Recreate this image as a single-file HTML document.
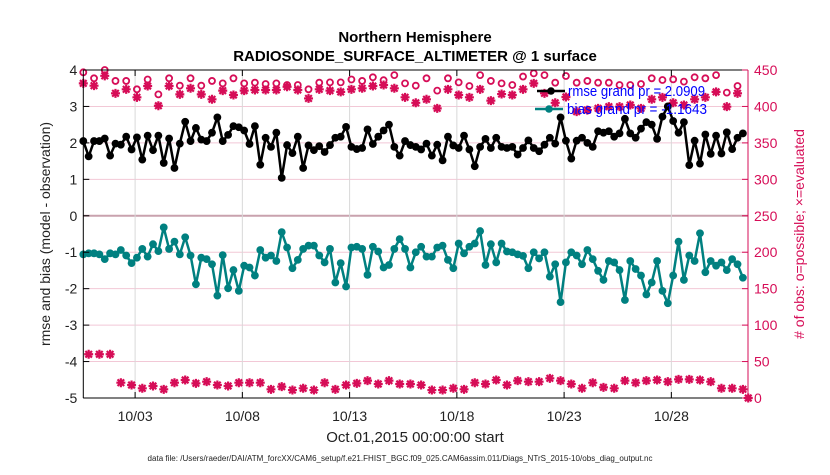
<!DOCTYPE html>
<html><head><meta charset="utf-8"><style>
body{margin:0;background:#fff;}
svg text{font-family:"Liberation Sans",Arial,sans-serif;}
</style></head><body>
<svg id="chart" width="830" height="470" viewBox="0 0 830 470">
<rect width="830" height="470" fill="#fff"/>
<g id="grid"></g>
<g id="series"></g>
<g id="axes"></g>
</svg>
<script>
const rmse=[2.05,1.63,2.05,2.05,2.12,1.65,1.98,1.95,2.17,1.82,2.15,1.54,2.2,1.8,2.2,1.45,2.12,1.31,1.98,2.58,2.05,2.41,2.09,2.05,2.28,2.7,2.05,2.22,2.46,2.43,2.34,1.97,2.46,1.4,2.14,1.89,2.28,1.04,1.94,1.72,2.17,1.31,
1.93,1.8,1.91,1.75,1.94,2.14,2.17,2.44,1.89,1.83,1.86,2.37,1.97,2.17,2.34,2.5,1.89,1.65,2.05,1.94,1.89,1.82,1.98,1.65,1.95,1.52,2.17,1.93,1.86,2.2,1.82,1.36,1.89,2.11,1.86,2.14,1.89,1.86,1.89,1.68,1.86,
2.07,1.86,1.77,1.95,2.14,1.98,2.7,2.06,1.57,2.06,2.14,2.0,1.89,2.32,2.28,2.32,2.17,2.26,2.66,2.26,2.14,2.39,2.57,2.5,2.11,2.72,3.0,2.6,2.28,2.57,1.39,2.06,1.43,2.23,1.7,2.2,1.71,2.29,1.83,2.14,2.26];
const bias=[-1.06,-1.03,-1.03,-1.06,-1.19,-1.03,-1.06,-0.94,-1.09,-1.3,-1.15,-0.91,-1.12,-0.78,-0.97,-0.32,-0.91,-0.71,-1.06,-0.59,-1.09,-1.88,-1.15,-1.19,-1.33,-2.19,-1.08,-1.99,-1.49,-2.06,-1.37,-1.42,-1.64,-0.94,-1.15,-1.09,-1.24,-0.45,-0.87,-1.44,-1.21,-0.91,
-0.82,-0.82,-1.09,-1.28,-0.91,-1.83,-1.3,-1.94,-0.87,-0.85,-0.91,-1.62,-0.85,-0.98,-1.42,-1.35,-0.91,-0.64,-0.91,-1.42,-1.0,-0.85,-1.12,-1.12,-0.87,-0.82,-1.21,-1.44,-0.76,-1.03,-0.85,-0.76,-0.42,-1.35,-0.78,-1.28,-0.76,-0.98,-1.0,-1.06,-1.1,
-1.44,-1.0,-1.17,-1.0,-1.67,-1.33,-2.37,-1.28,-1.0,-1.09,-1.33,-0.94,-1.19,-1.51,-1.76,-1.24,-1.28,-1.49,-2.31,-1.24,-1.46,-1.64,-2.16,-1.83,-1.24,-2.06,-2.4,-1.64,-0.71,-1.76,-1.09,-1.24,-0.48,-1.55,-1.24,-1.37,-1.28,-1.49,-1.19,-1.33,-1.7];
const possibleTop=[446.8,438.6,450,435,435,423.5,437,416.6,438.6,428.5,438.6,428.5,435,431.7,438.6,431.7,432.6,430.8,431.7,429.4,429.4,
423.5,432.6,433,433,437,435,440,436,443,431.7,428.5,438.6,421.7,438.6,433,428,443,435,431.7,429.4,441,
445.4,443,432.6,441.8,432.6,435,432.6,432.6,429.4,429.4,430.8,438.6,436.3,437.2,434,440,438.6,443,419,428];
const usedTop=[431.7,428.5,442,418,423.5,412.5,428,401,428,416.6,424.9,416.6,409.8,421.7,415.7,421.7,422.6,422.6,422.6,427,422.6,
411,423.5,421.7,420,423.5,424.9,428,429.4,424.9,412.5,405,409.8,397.4,423.5,415.7,412.5,423.5,408,417,415.7,423.5,
431.7,418,405,413,392.9,395,397.4,399.7,399.7,402,397.4,409.8,412.5,405,402,409.8,412.5,420,399.7,418];
const obsLow=[60,60,60,21,17.8,13.3,16.5,11.9,21,24.7,20.1,22.4,17.8,16.5,21,21,21,11.9,15.6,10.9,13.3,10.9,21,11.9,17.8,20.1,23.8,19.2,23.8,19.2,19.2,
17.8,10.9,10.9,13.3,11.9,21,19.2,24.7,17.8,23.8,22.4,22.4,27,23.8,19.2,13.3,21,14.6,13.3,23.8,21,23.8,24.7,22.4,25.6,25.6,24.7,22.4,13.3,13.3,11.9,0];
const tickDays=[2,7,12,17,22,27];
const tickLabels=['10/03','10/08','10/13','10/18','10/23','10/28'];
const leftTicks=[4,3,2,1,0,-1,-2,-3,-4,-5];
const rightTicks=[450,400,350,300,250,200,150,100,50,0];

const X0=83.3,X1=748,Y0=70,Y1=398,D0=-0.415,DPX=21.45;
const xDay=d=>X0+(d-D0)*DPX;
const xIdx=i=>xDay(D0+i*0.25);
const yL=v=>Y0+(4-v)*(Y1-Y0)/9;
const yR=v=>Y1-v*(Y1-Y0)/450;
const NS='http://www.w3.org/2000/svg';
const PINK='#d60d57',TEAL='#008080';
function mk(tag,at,parent){const e=document.createElementNS(NS,tag);for(const k in at)e.setAttribute(k,at[k]);parent.appendChild(e);return e;}
const grid=document.getElementById('grid'),ser=document.getElementById('series'),ax=document.getElementById('axes');

leftTicks.forEach(v=>{const y=yL(v);
 const g=mk('line',{x1:X0,x2:X1,y1:y,y2:y,stroke:v===0?'#c9a2ae':'#f2c8d6','stroke-width':v===0?2:1},grid);
 
 
});
tickDays.forEach(d=>{const x=xDay(d);
 const g=mk('line',{x1:x,x2:x,y1:Y0,y2:Y1,stroke:'#d8d8d8','stroke-width':1},grid);
 
 
});

function drawLine(vals,col,name){
 const pts=vals.map((v,i)=>xIdx(i).toFixed(1)+','+yL(v).toFixed(1)).join(' ');
 const p=mk('polyline',{points:pts,fill:'none',stroke:col,'stroke-width':2.5,'stroke-linejoin':'round'},ser);
 
 
 vals.forEach((v,i)=>{const c=mk('circle',{cx:xIdx(i),cy:yL(v),r:3.9,fill:col},ser);
  
  });
}
function star(x,y,name){
 const g=mk('g',{},ser);
 
 
 mk('path',{d:`M${x-4.5},${y}H${x+4.5}M${x},${y-4.5}V${y+4.5}M${x-3.3},${y-3.3}L${x+3.3},${y+3.3}M${x-3.3},${y+3.3}L${x+3.3},${y-3.3}`,stroke:PINK,'stroke-width':2.2},g);
 mk('circle',{cx:x,cy:y,r:2.8,fill:PINK},g);
}
possibleTop.forEach((v,j)=>{const c=mk('circle',{cx:xIdx(2*j),cy:yR(v),r:3,fill:'none',stroke:PINK,'stroke-width':1.8},ser);
 
 });
usedTop.forEach((v,j)=>star(xIdx(2*j),yR(v),'evaluated-obs-marker'));
obsLow.forEach((v,j)=>{const i=j<62?2*j+1:124;star(xIdx(i),yR(v),'low-obs-marker');});
drawLine(rmse,'#000','rmse');
drawLine(bias,TEAL,'bias');

[[X0,Y0,X1,Y0,'#000','top-axis'],[X0,Y1,X1,Y1,'#000','x-axis'],[X0,Y0,X0,Y1,'#000','left-y-axis'],[X1,Y0,X1,Y1,PINK,'right-y-axis']].forEach(a=>{
 const l=mk('line',{x1:a[0],y1:a[1],x2:a[2],y2:a[3],stroke:a[4],'stroke-width':1},ax);
 
 });
leftTicks.forEach(v=>{const y=yL(v);
 mk('line',{x1:X0,x2:X0+6,y1:y,y2:y,stroke:'#000'},ax);
 const t=mk('text',{x:X0-6,y:y+5,'text-anchor':'end','font-size':14,fill:'#222'},ax);t.textContent=v;
 
 });
rightTicks.forEach(v=>{const y=yR(v);
 mk('line',{x1:X1-6,x2:X1,y1:y,y2:y,stroke:PINK},ax);
 const t=mk('text',{x:X1+6,y:y+5,'font-size':14,fill:PINK},ax);t.textContent=v;
 
 });
tickDays.forEach((d,k)=>{const x=xDay(d);
 mk('line',{x1:x,x2:x,y1:Y1,y2:Y1-6,stroke:'#000'},ax);
 mk('line',{x1:x,x2:x,y1:Y0,y2:Y0+6,stroke:'#000'},ax);
 const t=mk('text',{x:x,y:421,'text-anchor':'middle','font-size':14,fill:'#222'},ax);t.textContent=tickLabels[k];
 
 });
</script>
<svg width="830" height="470" style="position:absolute;left:0;top:0">
<text x="415" y="42" text-anchor="middle" font-size="15" font-weight="bold">Northern Hemisphere</text>
<text x="415" y="61" text-anchor="middle" font-size="15" font-weight="bold">RADIOSONDE_SURFACE_ALTIMETER @ 1 surface</text>
<text x="415" y="442" text-anchor="middle" font-size="15" fill="#222">Oct.01,2015 00:00:00 start</text>
<text x="400" y="461" text-anchor="middle" font-size="8" fill="#222" textLength="505">data file: /Users/raeder/DAI/ATM_forcXX/CAM6_setup/f.e21.FHIST_BGC.f09_025.CAM6assim.011/Diags_NTrS_2015-10/obs_diag_output.nc</text>
<text transform="translate(50,234) rotate(-90)" text-anchor="middle" font-size="14" fill="#222">rmse and bias (model - observation)</text>
<text transform="translate(804,234) rotate(-90)" text-anchor="middle" font-size="14" fill="#d60d57"># of obs: o=possible; ×=evaluated</text>
<g>
<line x1="537" y1="91" x2="565" y2="91" stroke="#000" stroke-width="2.5"/><circle cx="551" cy="91" r="3.8" fill="#000"/>
<text x="568" y="96" font-size="15" fill="#0000ff" textLength="137" lengthAdjust="spacingAndGlyphs">rmse grand pr = 2.0909</text></g>
<g>
<line x1="535" y1="109" x2="563" y2="109" stroke="#008080" stroke-width="2.5"/><circle cx="549" cy="109" r="3.8" fill="#008080"/>
<text x="567" y="114" font-size="15" fill="#0000ff" textLength="140" lengthAdjust="spacingAndGlyphs">bias grand pr = -1.1643</text></g>
</svg>
</body></html>
